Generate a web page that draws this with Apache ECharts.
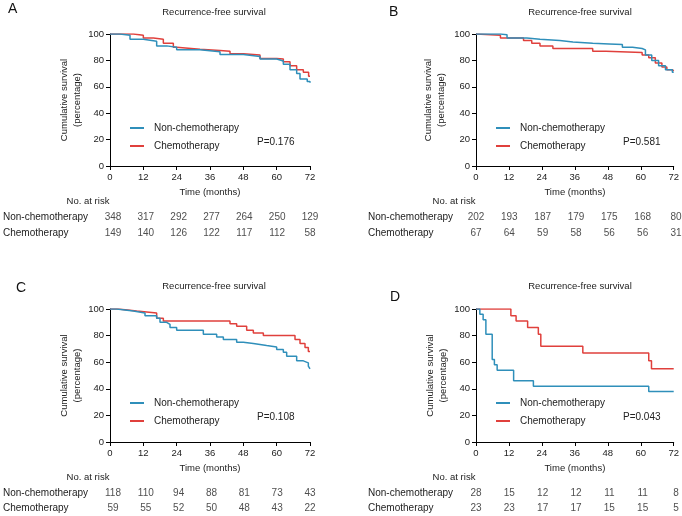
<!DOCTYPE html>
<html>
<head>
<meta charset="utf-8">
<script src="https://cdn.jsdelivr.net/npm/echarts@6/dist/echarts.min.js"></script>
<style>
  html, body { margin: 0; padding: 0; background: #fff; }
  #chart { width: 682px; height: 516px; }
</style>
</head>
<body>
<div id="chart"></div>
<script>
// time axis ticks (months) and the at-risk columns
const months = [0, 12, 24, 36, 48, 60, 72];
const groups = ['Non-chemotherapy', 'Chemotherapy'];
const panelLetters = ['A', 'B', 'C', 'D'];
const pValues = ['P=0.176', 'P=0.581', 'P=0.108', 'P=0.043'];

// Kaplan-Meier steps [month, survival %]
const nonA = [[0, 100], [3.6, 99], [7.2, 96], [12, 94.5], [16.8, 91], [20.4, 90], [24, 88], [32.4, 86.5], [39.6, 84.5], [48, 83], [54, 81], [60, 79.5], [62.4, 77], [64.8, 73], [67.2, 70], [68.4, 66], [71, 64], [72, 63]];
const chemoA = [[0, 100], [8.4, 99], [12, 97], [15.6, 96], [19.2, 93], [22.8, 90], [24, 88.5], [32.4, 87.5], [39.6, 87], [43.2, 85], [48, 84], [54, 81.5], [60, 81], [62.4, 79], [64.8, 76], [67.2, 73], [69.6, 71], [71.5, 68], [72, 68]];
const nonB = [[0, 100], [9, 99.5], [11.3, 97], [18.5, 96], [23.3, 95], [30.5, 94], [35.3, 93], [42.5, 92.5], [48.5, 92], [53.3, 90], [57, 89], [60.5, 88], [61.7, 84], [64, 80], [66.5, 76], [69, 73], [71.5, 71], [72, 71]];
const chemoB = [[0, 100], [0.5, 99], [8.9, 97], [17.3, 95], [20.3, 93], [23.3, 91], [28, 89], [42.5, 87], [47.3, 86], [60.5, 84], [62.9, 82], [65.3, 78], [67.7, 75], [69.5, 73], [71.5, 72], [72, 72]];
const nonC = [[0, 100], [2.4, 98.5], [8.4, 97], [12.6, 95], [16.8, 93], [18, 90], [20.4, 88.5], [21.6, 86], [24, 84], [30, 84], [33.6, 81], [38.4, 79], [40.8, 77], [45.6, 75], [48, 74], [51.6, 72.5], [56.4, 71.5], [60, 69.5], [62.4, 67.5], [63.6, 64.5], [67.2, 61], [69.6, 59.5], [71.4, 57], [72, 55]];
const chemoC = [[0, 100], [3, 98.5], [9.6, 97], [16.8, 93], [19.2, 91], [43.2, 89], [45.6, 87], [49.2, 84], [51.6, 82], [55.2, 80], [66.6, 77], [68.4, 74], [70.2, 71], [71.4, 68], [72, 68]];
const nonD = [[0, 100], [1.4, 96], [2.6, 92], [3.6, 81], [5.9, 62], [6.7, 58], [7.7, 54], [13.7, 46], [20.9, 42], [62.9, 38], [72, 38]];
const chemoD = [[0, 100], [12.7, 95], [14.6, 91], [18.8, 86], [22.7, 81], [23.6, 72], [38.9, 67], [62.9, 61], [63.9, 55], [72, 55]];

// numbers at risk per panel
const riskNon = [
  [348, 317, 292, 277, 264, 250, 129],
  [202, 193, 187, 179, 175, 168, 80],
  [118, 110, 94, 88, 81, 73, 43],
  [28, 15, 12, 12, 11, 11, 8]
];
const riskChemo = [
  [149, 140, 126, 122, 117, 112, 58],
  [67, 64, 59, 58, 56, 56, 31],
  [59, 55, 52, 50, 48, 43, 22],
  [23, 23, 17, 17, 15, 15, 5]
];

const curves = [[nonA, chemoA], [nonB, chemoB], [nonC, chemoC], [nonD, chemoD]];
const colors = ['#2f8fba', '#e0403c'];
const FONT = '"Liberation Sans", Arial, Helvetica, sans-serif';
const TXT = '#222';

// layout of each panel: plot box, table box, label offsets
const panels = [
  { left: 110, top: 34, h: 132, tTop: 209, tH: 32, rowX: 0, nameGap: 22, title: 12, letterX: 8, letterY: 9 },
  { left: 476, top: 34, h: 132, tTop: 209, tH: 32, rowX: 368, nameGap: 28, title: 12, letterX: 389, letterY: 12 },
  { left: 110, top: 309, h: 133, tTop: 485, tH: 31, rowX: 0, nameGap: 24, title: 286, letterX: 16, letterY: 288 },
  { left: 476, top: 309, h: 133, tTop: 485, tH: 31, rowX: 368, nameGap: 26, title: 286, letterX: 390, letterY: 297 }
];
const W = 200;

const chart = echarts.init(document.getElementById('chart'));

const grid = [], xAxis = [], yAxis = [], series = [], legend = [], graphic = [];

panels.forEach((p, i) => {
  // survival plot
  grid.push({ left: p.left, top: p.top, width: W, height: p.h, containLabel: false });
  xAxis.push({
    gridIndex: 2 * i, type: 'value', min: 0, max: 72, interval: 12,
    name: 'Time (months)', nameLocation: 'middle', nameGap: 21,
    nameTextStyle: { fontSize: 9.5, color: TXT, fontFamily: FONT },
    axisLine: { lineStyle: { color: '#000', width: 1 } },
    axisTick: { length: 4, lineStyle: { color: '#000' } },
    axisLabel: { fontSize: 9.5, color: TXT, fontFamily: FONT, margin: 6 },
    splitLine: { show: false }
  });
  yAxis.push({
    gridIndex: 2 * i, type: 'value', min: 0, max: 100, interval: 20,
    name: 'Cumulative survival\n(percentage)', nameLocation: 'middle', nameGap: p.nameGap, nameRotate: 90,
    nameTextStyle: { fontSize: 9.5, color: TXT, fontFamily: FONT, lineHeight: 13 },
    axisLine: { show: true, lineStyle: { color: '#000', width: 1 } },
    axisTick: { show: true, length: 4, lineStyle: { color: '#000' } },
    axisLabel: { fontSize: 9.5, color: TXT, fontFamily: FONT, margin: 6 },
    splitLine: { show: false }
  });
  curves[i].forEach((d, k) => {
    series.push({
      name: groups[k], type: 'line', step: 'end', data: d,
      xAxisIndex: 2 * i, yAxisIndex: 2 * i,
      showSymbol: false, symbol: 'none', animation: false,
      lineStyle: { color: colors[k], width: 1.5 },
      itemStyle: { color: colors[k] },
      z: k === 0 ? 3 : 2
    });
  });

  // at-risk table
  grid.push({ left: p.left, top: p.tTop, width: W, height: p.tH });
  xAxis.push({ gridIndex: 2 * i + 1, type: 'value', min: 0, max: 72, show: false });
  yAxis.push({
    gridIndex: 2 * i + 1, type: 'category', data: groups, inverse: true,
    axisLine: { show: false }, axisTick: { show: false },
    axisLabel: { align: 'left', margin: p.left - p.rowX, fontSize: 10, color: TXT, fontFamily: FONT }
  });
  [riskNon[i], riskChemo[i]].forEach((row, k) => {
    series.push({
      name: 'risk-' + i + '-' + k, type: 'scatter', symbolSize: 0,
      xAxisIndex: 2 * i + 1, yAxisIndex: 2 * i + 1, animation: false, silent: true,
      data: row.map((v, j) => [months[j], groups[k], v]),
      label: {
        show: true, position: 'inside', formatter: q => q.value[2],
        fontSize: 10, color: TXT, fontFamily: FONT
      }
    });
  });

  legend.push({
    data: groups, orient: 'vertical', left: p.left + 15, top: p.top + 84,
    icon: 'rect', itemWidth: 14, itemHeight: 2, itemGap: 8,
    selectedMode: false,
    textStyle: { fontSize: 10, color: TXT, fontFamily: FONT, padding: [0, 0, 0, 5] }
  });

  graphic.push(
    { type: 'text', x: p.left + W / 2 + 4, y: p.title, style: { text: 'Recurrence-free survival', font: '9.5px ' + FONT, fill: TXT, align: 'center', verticalAlign: 'middle' } },
    { type: 'text', x: p.letterX, y: p.letterY, style: { text: panelLetters[i], font: '14px ' + FONT, fill: '#111', align: 'left', verticalAlign: 'middle' } },
    { type: 'text', x: p.left + 147, y: p.top + 108, style: { text: pValues[i], font: '10px ' + FONT, fill: TXT, align: 'left', verticalAlign: 'middle' } },
    { type: 'text', x: p.left - 22, y: p.tTop - 8, style: { text: 'No. at risk', font: '9.5px ' + FONT, fill: TXT, align: 'center', verticalAlign: 'middle' } }
  );
});

chart.setOption({
  backgroundColor: '#fff',
  animation: false,
  grid, xAxis, yAxis, series, legend, graphic
});
</script>
</body>
</html>
